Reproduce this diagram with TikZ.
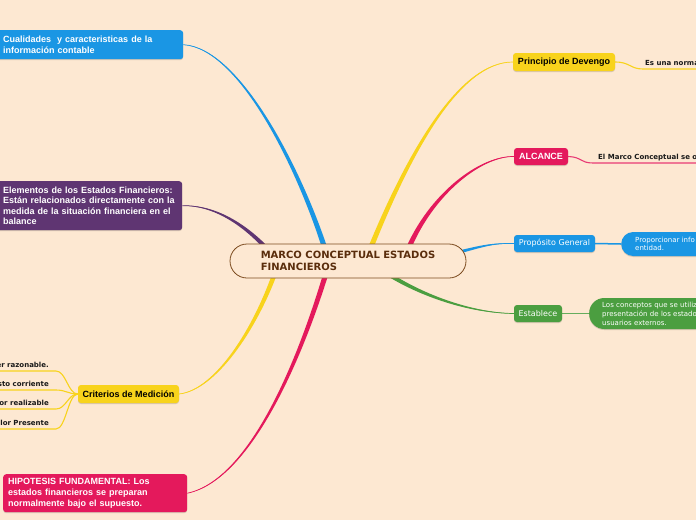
\documentclass[tikz,border=0pt]{standalone}
\usepackage{fontspec}
\setmainfont{DejaVu Sans}
\newfontfamily\arialf{Liberation Sans}
\newfontfamily\dejaf{DejaVu Sans}
\usetikzlibrary{calc,shadows}
\definecolor{bgc}{HTML}{FDE8D2}
\definecolor{cblue}{HTML}{1A96E4}
\definecolor{cyel}{HTML}{F8D31C}
\definecolor{cred}{HTML}{E4195C}
\definecolor{cpur}{HTML}{5F3572}
\definecolor{cgrn}{HTML}{4B9E40}
\definecolor{cbrn}{HTML}{5A2D0C}
\definecolor{cbrd}{HTML}{7B4A1E}
\pgfdeclarelayer{paper}\pgfdeclarelayer{links}
\pgfsetlayers{paper,links,main}
\newcommand\mmtaper[6]{%
 \pgfmathsetmacro\tpa{0.35*#6}\pgfmathsetmacro\tpb{0.75*#6}%
 \fill[#1] (#2) .. controls ($(#3)!\tpa pt!90:(#2)$) and ($(#4)!\tpb pt!90:(#3)$) .. ($(#5)!#6pt!90:(#4)$) -- ($(#5)!#6pt!-90:(#4)$) .. controls ($(#4)!\tpb pt!-90:(#3)$) and ($(#3)!\tpa pt!-90:(#2)$) .. (#2) -- cycle;
 \draw[#1,line width=0.7pt] (#2) .. controls (#3) and (#4) .. (#5);}
\tikzset{
 mmshadow/.style={drop shadow={shadow xshift=0pt,shadow yshift=-1pt,opacity=0.15,fill=black}},
 bigbox/.style={rectangle,rounded corners=3pt,text=white,align=left,inner ysep=2pt,mmshadow,
   font=\arialf\bfseries\fontsize{9}{11}\selectfont},
 smallbox/.style={rectangle,rounded corners=3pt,inner xsep=3pt,inner ysep=1pt,mmshadow,
   font=\arialf\bfseries\fontsize{9}{11}\selectfont},
 regbox/.style={rectangle,rounded corners=3pt,inner xsep=3pt,inner ysep=1pt,text=white,mmshadow,
   font=\dejaf\fontsize{8}{10}\selectfont},
 leaftxt/.style={inner ysep=3.5pt,text depth=0pt,text=black!90,
   font=\dejaf\bfseries\fontsize{7}{8}\selectfont},
 leafbox/.style={rectangle,rounded corners=12pt,text=white,align=left,text width=160pt,mmshadow,
   font=\dejaf\fontsize{7}{8.6}\selectfont},
 rootbox/.style={rectangle,rounded corners=17pt,draw=cbrd,line width=0.8pt,fill=bgc,text=cbrn,
   align=left,minimum width=236pt,minimum height=34pt,
   font=\dejaf\bfseries\fontsize{10}{12}\selectfont},
 leafline/.style={line width=1.1pt},
}
\begin{document}
\begin{tikzpicture}[x=1pt,y=-1pt]
\useasboundingbox (0,0) rectangle (696,520);
\begin{pgfonlayer}{paper}
\fill[bgc] (0,0) rectangle (696,520);
\end{pgfonlayer}
% root
\node[rootbox] (root) at (348,261) {MARCO CONCEPTUAL ESTADOS\\FINANCIEROS};
% main topics
\node[bigbox,fill=cblue,anchor=north west,minimum width=186pt,minimum height=29pt,text width=174pt,inner xsep=6pt]
  (cual) at (-3,30) {Cualidades \ y caracteristicas de la\\información contable};
\node[bigbox,fill=cpur,anchor=north west,minimum width=185pt,minimum height=49pt,text width=173pt,inner xsep=6pt,
  font=\arialf\bfseries\fontsize{9}{10.4}\selectfont]
  (elem) at (-3,181) {Elementos de los Estados Financieros:\\Están relacionados directamente con la\\medida de la situación financiera en el\\balance};
\node[bigbox,fill=cred,anchor=north west,minimum width=184pt,minimum height=38pt,text width=174pt,inner xsep=5pt]
  (hipo) at (3,474) {HIPOTESIS FUNDAMENTAL: Los\\estados financieros se preparan\\normalmente bajo el supuesto.};
\node[smallbox,fill=cyel,minimum width=101pt,minimum height=18pt] (crit) at (128.5,394) {Criterios de Medición};
\node[smallbox,fill=cyel,minimum width=102pt,minimum height=18pt] (prin) at (564,62) {Principio de Devengo};
\node[smallbox,fill=cred,text=white,minimum width=54pt,minimum height=17pt] (alc) at (541,156.5) {ALCANCE};
\node[regbox,fill=cblue,minimum width=81pt,minimum height=17pt] (prop) at (554.5,243.5) {Propósito General};
\node[regbox,fill=cgrn,minimum width=48pt,minimum height=17pt] (est) at (538,313.5) {Establece};
% leaves
\node[leaftxt,anchor=south east,inner xsep=7pt] (l1) at (56,371) {er razonable.};
\node[leaftxt,anchor=south east,inner xsep=7pt] (l2) at (56,390) {sto corriente};
\node[leaftxt,anchor=south east,inner xsep=7pt] (l3) at (56,409) {or realizable};
\node[leaftxt,anchor=south east,inner xsep=7pt] (l4) at (56,429) {lor Presente};
\node[leaftxt,anchor=south west,inner xsep=2pt] (pl) at (643,69) {Es una norma};
\node[leaftxt,anchor=south west,inner xsep=5pt] (al) at (593,163) {El Marco Conceptual se o};
\node[leafbox,fill=cblue,anchor=west,minimum height=24pt,inner xsep=14pt] (pleaf) at (621,244)
  {Proporcionar info\\entidad.};
\node[leafbox,fill=cgrn,anchor=west,minimum height=31pt,inner xsep=13pt,rounded corners=15pt,
  font=\dejaf\fontsize{7}{9}\selectfont] (eleaf) at (589,313.5)
  {Los conceptos que se utiliz\\presentación de los estado\\usuarios externos.};
% root connector ends
\coordinate (rBlue) at (326,252);
\coordinate (rPur) at (268,250);
\coordinate (rYel) at (369,252);
\coordinate (rRed) at (407,252);
\coordinate (rProp) at (455,253);
\coordinate (rGrn) at (385,272);
\coordinate (rYel2) at (276,270);
\coordinate (rRed2) at (327,270);
\begin{pgfonlayer}{links}
\mmtaper{cblue}{cual.east}{240,48}{300,170}{rBlue}{2.6}
\mmtaper{cpur}{elem.east}{215,205}{245,225}{rPur}{2.2}
\mmtaper{cyel}{prin.west}{460,62}{410,150}{rYel}{2.6}
\mmtaper{cred}{alc.west}{480,156}{430,195}{rRed}{2.6}
\mmtaper{cblue}{prop.west}{490,243}{480,247}{rProp}{1.6}
\mmtaper{cgrn}{est.west}{470,313}{420,295}{rGrn}{2.2}
\mmtaper{cyel}{crit.east}{215,390}{255,330}{rYel2}{2.4}
\mmtaper{cred}{hipo.east}{250,480}{300,360}{rRed2}{2.6}
\draw[leafline,cyel] (crit.west) .. controls (68,394) and (66,371) .. (l1.south east) -- (l1.south west);
\draw[leafline,cyel] (crit.west) .. controls (68,394) and (66,390) .. (l2.south east) -- (l2.south west);
\draw[leafline,cyel] (crit.west) .. controls (68,394) and (66,409) .. (l3.south east) -- (l3.south west);
\draw[leafline,cyel] (crit.west) .. controls (68,394) and (66,429) .. (l4.south east) -- (l4.south west);
\draw[leafline,cyel] (prin.east) .. controls (630,62) and (630,69) .. (pl.south west) -- (pl.south east) -- ++(40,0);
\draw[leafline,cred!85] (alc.east) .. controls (582,157) and (580,163) .. (al.south west) -- (al.south east) -- ++(40,0);
\draw[line width=1.5pt,cblue] (prop.east) .. controls (608,243.5) and (608,244) .. (pleaf.west);
\draw[line width=1.5pt,cgrn!85] (est.east) .. controls (575,313.5) and (575,313.5) .. (eleaf.west);
\end{pgfonlayer}
\end{tikzpicture}
\end{document}
